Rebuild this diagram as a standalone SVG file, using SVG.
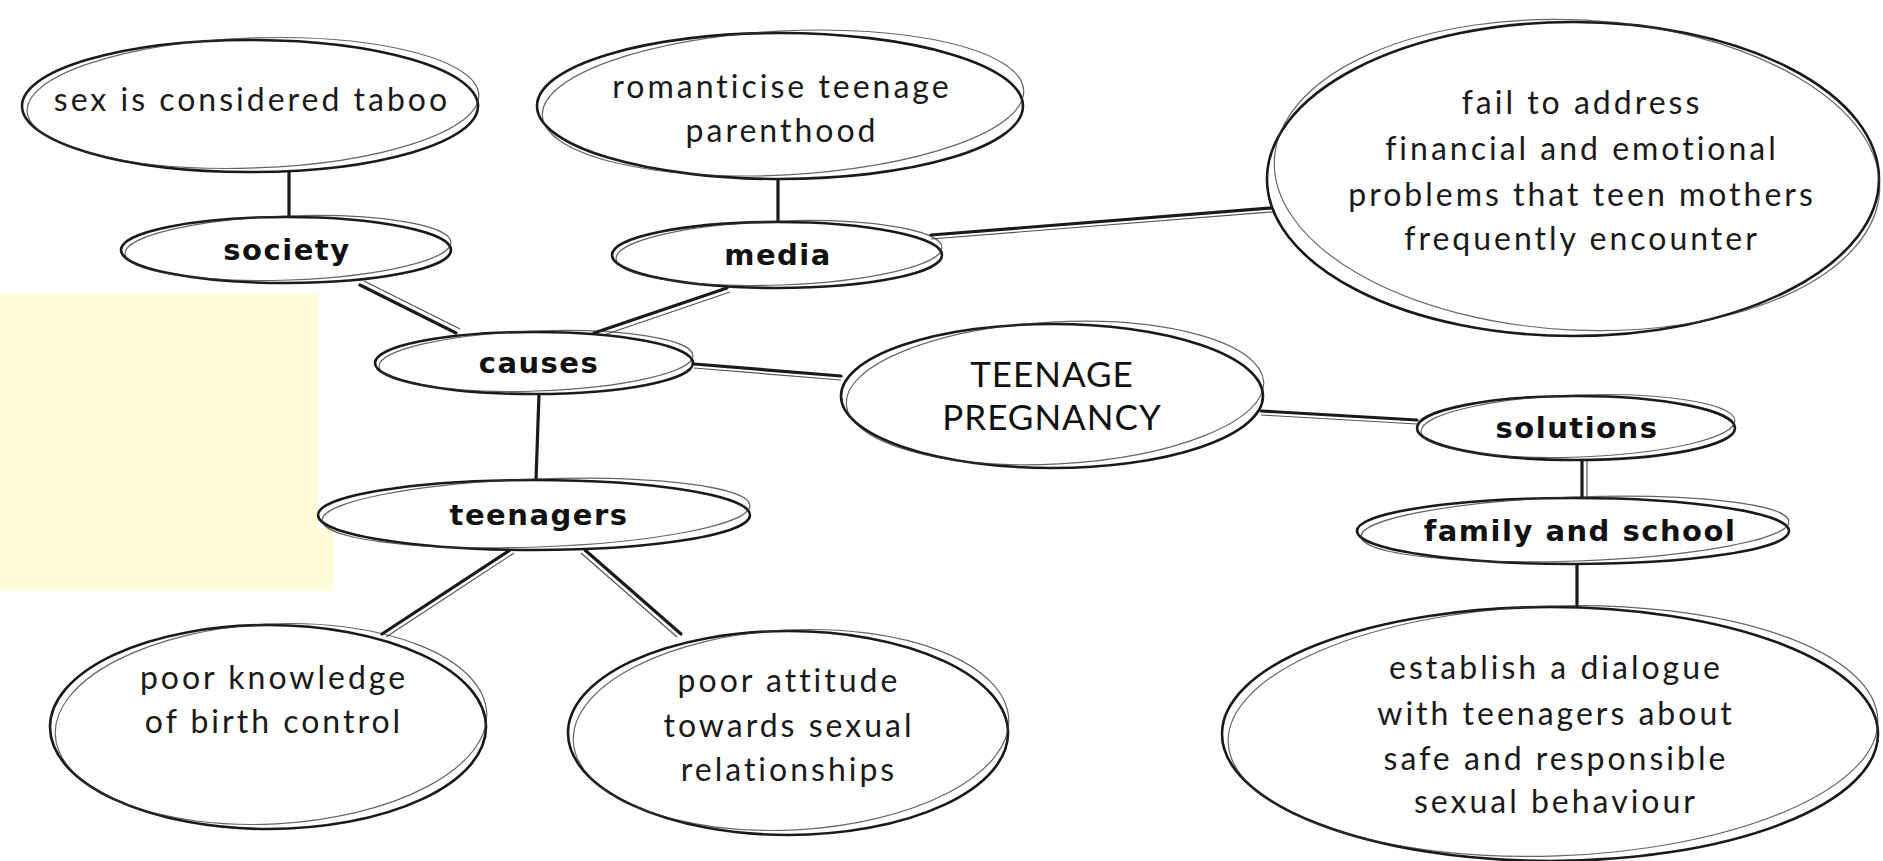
<svg xmlns="http://www.w3.org/2000/svg" width="1883" height="861" viewBox="0 0 1883 861">
<style>
.bg{fill:#ffffff}
.e{fill:#ffffff;stroke:#1a1a1a;stroke-width:2.6}
.e2{fill:none;stroke:#333;stroke-width:1.2;opacity:0.75}
.c{stroke:#1a1a1a;stroke-width:3.2;fill:none;stroke-linecap:round}
.c2{stroke:#555;stroke-width:1.2;fill:none}
.t{font-family:Lato,"Open Sans",sans-serif;font-size:32px;letter-spacing:3px;fill:#1a1a1a;text-anchor:middle}
.b{font-family:"DejaVu Sans",Verdana,sans-serif;font-weight:bold;font-size:29px;letter-spacing:1.5px;fill:#111;text-anchor:middle}
.cap{font-family:Lato,"Open Sans",sans-serif;font-size:35px;letter-spacing:1px;fill:#111;text-anchor:middle}
</style>
<rect class="bg" x="0" y="0" width="1883" height="861"/>
<path d="M0 294 H318 V528 H333 V591 H0 Z" fill="#FEFDD8"/>
<g id="connectors">
<line class="c" x1="289" y1="172" x2="289" y2="220"/>
<line class="c" x1="360" y1="285" x2="456" y2="333"/>
<line class="c2" x1="364" y1="281" x2="460" y2="329"/>
<line class="c" x1="727" y1="288" x2="594" y2="333"/>
<line class="c2" x1="730" y1="292" x2="598" y2="337"/>
<line class="c" x1="778" y1="178" x2="778" y2="222"/>
<line class="c" x1="931" y1="235" x2="1283" y2="207"/>
<line class="c2" x1="931" y1="239" x2="1283" y2="211"/>
<line class="c" x1="694" y1="364" x2="841" y2="376"/>
<line class="c2" x1="694" y1="368" x2="841" y2="380"/>
<line class="c" x1="539" y1="394" x2="536" y2="480"/>
<line class="c" x1="1261" y1="411" x2="1417" y2="420"/>
<line class="c2" x1="1261" y1="415" x2="1417" y2="424"/>
<line class="c" x1="1582" y1="460" x2="1582" y2="498"/>
<line class="c2" x1="1587" y1="460" x2="1587" y2="498"/>
<line class="c" x1="1577" y1="564" x2="1577" y2="607"/>
<line class="c" x1="510" y1="550" x2="382" y2="634"/>
<line class="c2" x1="514" y1="553" x2="386" y2="637"/>
<line class="c" x1="585" y1="550" x2="681" y2="634"/>
<line class="c2" x1="581" y1="553" x2="677" y2="637"/>
</g>
<g id="n-taboo">
<ellipse class="e" cx="250" cy="106" rx="228" ry="66"/>
<ellipse class="e2" cx="253" cy="103" rx="226" ry="65" transform="rotate(-2 253 103)"/>
<text class="t" x="252" y="111">sex is considered taboo</text>
</g>
<g id="n-society">
<ellipse class="e" cx="286" cy="250" rx="165" ry="33"/>
<ellipse class="e2" cx="288" cy="248" rx="163" ry="32" transform="rotate(-2 288 248)"/>
<text class="b" x="287" y="260">society</text>
</g>
<g id="n-romanticise">
<ellipse class="e" cx="780" cy="106" rx="243" ry="73"/>
<ellipse class="e2" cx="783" cy="103" rx="241" ry="72" transform="rotate(-3 783 103)"/>
<text class="t" x="782" y="98">romanticise teenage</text>
<text class="t" x="782" y="142">parenthood</text>
</g>
<g id="n-media">
<ellipse class="e" cx="777" cy="255" rx="165" ry="33"/>
<ellipse class="e2" cx="779" cy="253" rx="163" ry="32" transform="rotate(-2 779 253)"/>
<text class="b" x="778" y="265">media</text>
</g>
<g id="n-fail">
<ellipse class="e" cx="1573" cy="179" rx="306" ry="157"/>
<ellipse class="e2" cx="1577" cy="175" rx="303" ry="155" transform="rotate(3 1577 175)"/>
<text class="t" x="1582" y="114">fail to address</text>
<text class="t" x="1582" y="160">financial and emotional</text>
<text class="t" x="1582" y="206">problems that teen mothers</text>
<text class="t" x="1582" y="250">frequently encounter</text>
</g>
<g id="n-causes">
<ellipse class="e" cx="534" cy="363" rx="159" ry="31"/>
<ellipse class="e2" cx="536" cy="361" rx="157" ry="30" transform="rotate(-2 536 361)"/>
<text class="b" x="539" y="373">causes</text>
</g>
<g id="n-teen">
<ellipse class="e" cx="1052" cy="396" rx="211" ry="72"/>
<ellipse class="e2" cx="1055" cy="393" rx="209" ry="71" transform="rotate(-3 1055 393)"/>
<text class="cap" x="1052" y="387">TEENAGE</text>
<text class="cap" x="1052" y="430">PREGNANCY</text>
</g>
<g id="n-solutions">
<ellipse class="e" cx="1576" cy="428" rx="159" ry="32"/>
<ellipse class="e2" cx="1578" cy="426" rx="157" ry="31" transform="rotate(-2 1578 426)"/>
<text class="b" x="1577" y="438">solutions</text>
</g>
<g id="n-family">
<ellipse class="e" cx="1573" cy="531" rx="216" ry="33"/>
<ellipse class="e2" cx="1575" cy="529" rx="214" ry="32" transform="rotate(-2 1575 529)"/>
<text class="b" x="1580" y="541">family and school</text>
</g>
<g id="n-establish">
<ellipse class="e" cx="1550" cy="734" rx="328" ry="127"/>
<ellipse class="e2" cx="1553" cy="731" rx="325" ry="125" transform="rotate(-2 1553 731)"/>
<text class="t" x="1556" y="679">establish a dialogue</text>
<text class="t" x="1556" y="725">with teenagers about</text>
<text class="t" x="1556" y="770">safe and responsible</text>
<text class="t" x="1556" y="813">sexual behaviour</text>
</g>
<g id="n-teenagers">
<ellipse class="e" cx="534" cy="515" rx="216" ry="35"/>
<ellipse class="e2" cx="536" cy="513" rx="214" ry="34" transform="rotate(-2 536 513)"/>
<text class="b" x="539" y="525">teenagers</text>
</g>
<g id="n-knowledge">
<ellipse class="e" cx="268" cy="727" rx="218" ry="102"/>
<ellipse class="e2" cx="271" cy="724" rx="216" ry="100" transform="rotate(-3 271 724)"/>
<text class="t" x="274" y="689">poor knowledge</text>
<text class="t" x="274" y="733">of birth control</text>
</g>
<g id="n-attitude">
<ellipse class="e" cx="788" cy="733" rx="220" ry="102"/>
<ellipse class="e2" cx="791" cy="730" rx="218" ry="100" transform="rotate(-3 791 730)"/>
<text class="t" x="789" y="692">poor attitude</text>
<text class="t" x="789" y="737">towards sexual</text>
<text class="t" x="789" y="781">relationships</text>
</g>
</svg>
